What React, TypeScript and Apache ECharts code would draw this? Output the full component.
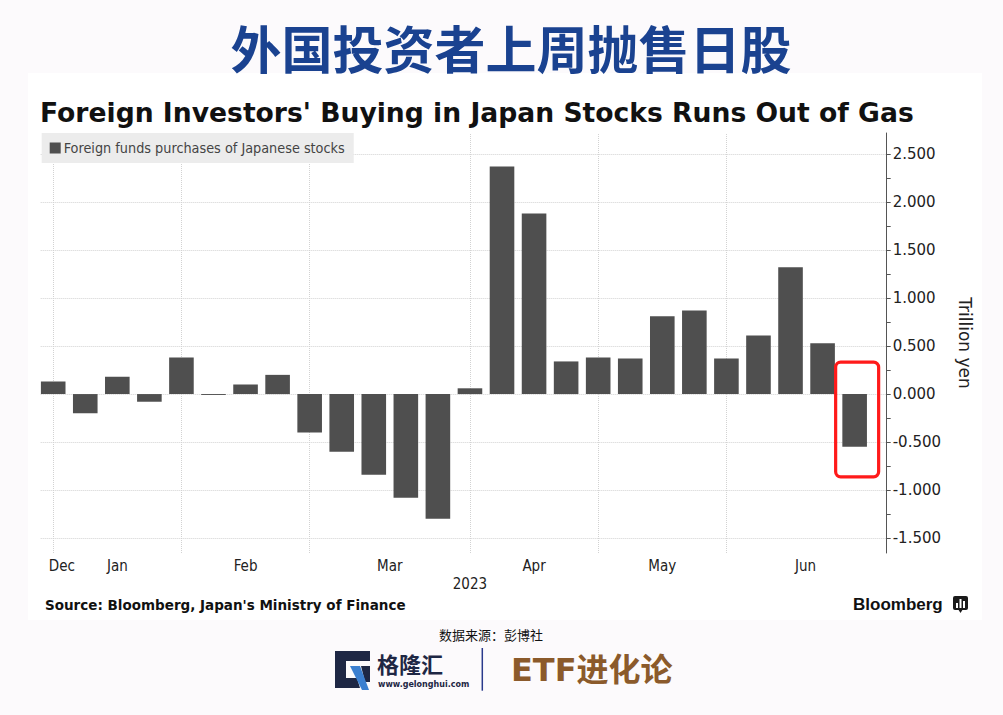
import React, { useEffect, useRef } from "react";
import * as echarts from "echarts";

// ---- data ----
const seriesName = "Foreign funds purchases of Japanese stocks";
const weeks = [0, 1, 2, 3, 4, 5, 6, 7, 8, 9, 10, 11, 12, 13, 14, 15, 16, 17, 18, 19, 20, 21, 22, 23, 24, 25];
const purchases = [
  0.13, -0.2, 0.18, -0.08, 0.38, -0.01, 0.1, 0.2, -0.4, -0.6, -0.84, -1.08, -1.3,
  0.06, 2.37, 1.88, 0.34, 0.38, 0.37, 0.81, 0.87, 0.37, 0.61, 1.32, 0.53, -0.55,
];
const monthLabels = ["Dec", "Jan", "Feb", "Mar", "Apr", "May", "Jun"];
const monthLabelPositions = [0.27, 2, 6, 10.5, 15, 19, 23.47];
const monthStartWeeks = [0, 4, 8, 13, 17, 21];
const yearLabels = ["2023"];
const yearLabelPositions = [13];
const yTickValues = [-1.5, -1.25, -1, -0.75, -0.5, -0.25, 0, 0.25, 0.5, 0.75, 1, 1.25, 1.5, 1.75, 2, 2.25, 2.5];
const yLabelValues = [-1.5, -1, -0.5, 0, 0.5, 1, 1.5, 2, 2.5];
const highlightWeek = 25;

const FONT = "'DejaVu Sans', Verdana, sans-serif";
const COND = "'DejaVu Sans Condensed', 'DejaVu Sans', sans-serif";
const CJK = "'Noto Sans CJK SC', sans-serif";

function nearestLabel(v: number, pos: number[], labels: string[]) {
  let best = 0;
  for (let i = 1; i < pos.length; i++) {
    if (Math.abs(pos[i] - v) < Math.abs(pos[best] - v)) best = i;
  }
  return labels[best];
}

export default function App() {
  const ref = useRef<HTMLDivElement>(null);

  useEffect(() => {
    const el = ref.current!;
    const chart = echarts.init(el, null, { renderer: "svg" });

    const barData = weeks.map((w, i) => [w, purchases[i]]);

    const gridLineStyle = { type: "dotted", color: "#d2d2d2", width: 1 };

    const option: any = {
      animation: false,
      backgroundColor: "#fcfafc",
      grid: {
        left: 40.7,
        right: 116.3,
        top: 133,
        bottom: 162,
        containLabel: false,
        outerBoundsMode: "none",
      },
      legend: {
        data: [seriesName],
        left: 41.7,
        top: 133,
        backgroundColor: "#ececec",
        padding: [8, 9, 8, 8],
        icon: "rect",
        itemWidth: 11,
        itemHeight: 11,
        selectedMode: false,
        textStyle: { fontSize: 14.3, color: "#444", fontFamily: COND, padding: [0, 0, 0, -2] },
      },
      xAxis: [
        {
          type: "value",
          min: -0.39,
          max: 26,
          axisLine: { show: false },
          axisTick: { show: false },
          splitLine: { show: false },
          axisLabel: {
            customValues: monthLabelPositions,
            formatter: (v: number) => nearestLabel(v, monthLabelPositions, monthLabels),
            fontSize: 15,
            color: "#222",
            fontFamily: COND,
            margin: 5,
          },
        },
        {
          type: "value",
          position: "bottom",
          offset: 18,
          min: -0.39,
          max: 26,
          axisLine: { show: false },
          axisTick: { show: false },
          splitLine: { show: false },
          axisLabel: {
            customValues: yearLabelPositions,
            formatter: (v: number) => nearestLabel(v, yearLabelPositions, yearLabels),
            fontSize: 15,
            color: "#222",
            fontFamily: COND,
            margin: 5,
          },
        },
      ],
      yAxis: {
        type: "value",
        position: "right",
        min: -1.656,
        max: 2.72,
        name: "Trillion yen",
        nameLocation: "middle",
        nameRotate: -90,
        nameGap: 70,
        nameTextStyle: { fontSize: 17, color: "#222", fontFamily: FONT },
        axisLine: { show: true, onZero: false, lineStyle: { color: "#555", width: 1 } },
        axisTick: { show: true, customValues: yTickValues, length: 4, lineStyle: { color: "#555" } },
        splitLine: { show: false },
        axisLabel: {
          customValues: yLabelValues,
          formatter: (v: number) => v.toFixed(3),
          fontSize: 15,
          color: "#222",
          fontFamily: FONT,
          margin: 6,
        },
      },
      series: [
        {
          type: "bar",
          name: seriesName,
          data: barData,
          barWidth: 24.6,
          itemStyle: { color: "#4f4f4f" },
          markLine: {
            z: 1,
            silent: true,
            symbol: ["none", "none"],
            label: { show: false },
            lineStyle: gridLineStyle,
            data: [
              ...monthStartWeeks.map((w) => ({ xAxis: w })),
              ...yLabelValues.map((v) => ({ yAxis: v })),
            ],
          },
        },
      ],
    };

    chart.setOption(option);

    const [cx, cy0] = chart.convertToPixel({ xAxisIndex: 0, yAxisIndex: 0 }, [highlightWeek, 0]) as number[];
    const [, cyv] = chart.convertToPixel({ xAxisIndex: 0, yAxisIndex: 0 }, [highlightWeek, purchases[highlightWeek]]) as number[];

    const graphic: any[] = [
      { type: "rect", z: -10, shape: { x: 28, y: 73, width: 954, height: 547 }, style: { fill: "#ffffff" } },
      {
        type: "text",
        x: 511,
        y: 47,
        style: {
          text: "外国投资者上周抛售日股",
          font: `bold 51px ${CJK}`,
          fill: "#1a4290",
          align: "center",
          verticalAlign: "middle",
          textAlign: "center",
          textVerticalAlign: "middle",
        },
      },
      {
        type: "text",
        x: 40,
        y: 112,
        style: {
          text: "Foreign Investors' Buying in Japan Stocks Runs Out of Gas",
          font: `bold 26.6px ${FONT}`,
          fill: "#111",
          align: "left",
          verticalAlign: "middle",
          textAlign: "left",
          textVerticalAlign: "middle",
        },
      },
      {
        type: "text",
        x: 45,
        y: 605,
        style: {
          text: "Source: Bloomberg, Japan's Ministry of Finance",
          font: `bold 13.5px ${FONT}`,
          fill: "#111",
          align: "left",
          verticalAlign: "middle",
          textAlign: "left",
          textVerticalAlign: "middle",
        },
      },
      {
        type: "text",
        x: 853,
        y: 604,
        style: {
          text: "Bloomberg",
          font: `bold 17px 'Liberation Sans', Arial, sans-serif`,
          fill: "#111",
          align: "left",
          verticalAlign: "middle",
          textAlign: "left",
          textVerticalAlign: "middle",
        },
      },
      { type: "rect", shape: { x: 953, y: 596, width: 15, height: 14, r: 2 }, style: { fill: "#1a1a1a" } },
      { type: "polygon", shape: { points: [[958, 609], [963, 609], [960.5, 613]] }, style: { fill: "#1a1a1a" } },
      { type: "rect", shape: { x: 956, y: 603, width: 2, height: 5 }, style: { fill: "#fff" } },
      { type: "rect", shape: { x: 959.5, y: 599, width: 2, height: 9 }, style: { fill: "#fff" } },
      { type: "rect", shape: { x: 963, y: 601, width: 2, height: 7 }, style: { fill: "#fff" } },
      {
        type: "text",
        x: 491,
        y: 634,
        style: {
          text: "数据来源：彭博社",
          font: `13px ${CJK}`,
          fill: "#111",
          align: "center",
          verticalAlign: "middle",
          textAlign: "center",
          textVerticalAlign: "middle",
        },
      },
      // Gelonghui logo
      {
        type: "polygon",
        shape: {
          points: [
            [335, 651], [370, 651], [370, 661], [346, 661], [346, 678], [357, 678], [360, 688], [335, 688],
          ],
        },
        style: { fill: "#1e2744" },
      },
      {
        type: "polygon",
        shape: { points: [[361, 666], [370, 666], [370, 682], [365, 682]] },
        style: { fill: "#1e2744" },
      },
      {
        type: "polygon",
        shape: { points: [[350, 666], [360, 666], [369, 690], [362, 690]] },
        style: { fill: "#3b7fd0" },
      },
      {
        type: "text",
        x: 377,
        y: 663,
        style: {
          text: "格隆汇",
          font: `bold 22px ${CJK}`,
          fill: "#1e2744",
          align: "left",
          verticalAlign: "middle",
          textAlign: "left",
          textVerticalAlign: "middle",
        },
      },
      {
        type: "text",
        x: 378,
        y: 684.5,
        style: {
          text: "www.gelonghui.com",
          font: `bold 8px ${FONT}`,
          fill: "#1e2744",
          align: "left",
          verticalAlign: "middle",
          textAlign: "left",
          textVerticalAlign: "middle",
        },
      },
      { type: "line", shape: { x1: 482.3, y1: 648, x2: 482.3, y2: 690.7 }, style: { stroke: "#2a3a8c", lineWidth: 1.5 } },
      {
        type: "text",
        x: 511,
        y: 670,
        style: {
          text: "ETF进化论",
          font: `bold 32px 'DejaVu Sans', ${CJK}`,
          fill: "#8b5a2b",
          align: "left",
          verticalAlign: "middle",
          textAlign: "left",
          textVerticalAlign: "middle",
        },
      },
      // highlight box around the latest week
      {
        type: "rect",
        z: 10,
        shape: { x: cx - 19, y: cy0 - 32, width: 43, height: cyv - cy0 + 62, r: 5 },
        style: { fill: "none", stroke: "#ff1a1a", lineWidth: 3.2 },
      },
    ];

    chart.setOption({ graphic });

    return () => {
      chart.dispose();
    };
  }, []);

  return (
    <div
      ref={ref}
      style={{ position: "fixed", left: 0, top: 0, width: "1003px", height: "715px" }}
    />
  );
}
